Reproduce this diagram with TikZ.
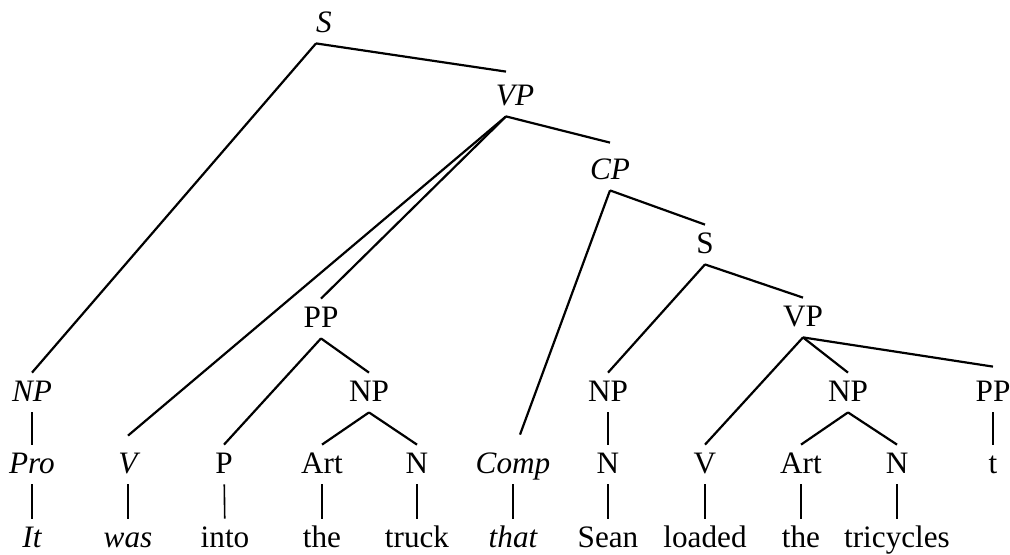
\documentclass[tikz,border=0pt]{standalone}
\usepackage{fontspec}
\setmainfont{Liberation Serif}
\usepackage{tikz}
\usetikzlibrary{positioning}
\tikzstyle{cat} = [inner sep=0pt, 
text height=14pt, 
text depth=5.5pt, 
anchor=base]
\tikzstyle{icat} = [cat, 
font=\fontsize{15.6}{18}\selectfont\itshape]
\tikzstyle{branch} = [line width=1.1pt]
\tikzstyle{bar} = [line width=0.8pt]

\begin{document}
\begin{tikzpicture}[x=0.5pt, y=-0.5pt, font=\fontsize{15.6}{18}\selectfont]
        \useasboundingbox (0,0) rectangle (1010,554);

        % --- Nodos superiores ---
        \node (s1) [icat] at (324,32) {S};
        \node (vp1) [icat] at (515,105) {VP};
        \node (cp) [icat] at (610,179) {CP};
        \node (s2) [cat] at (705,253) {S};
        \node (pp1) [cat] at (321,327) {PP};
        \node (vp2) [cat] at (803,326) {VP};

        % --- Fila de sintagmas ---
        \node (np1) [icat] at (32,401) {NP};
        \node (np2) [cat] at (369,401) {NP};
        \node (np3) [cat] at (608,401) {NP};
        \node (np4) [cat] at (848,401) {NP};
        \node (pp2) [cat] at (993,401) {PP};

        % --- Categorias lexicas ---
        \node (pro) [icat] at (32,473) {Pro};
        \node (v1) [icat] at (128,473) {V};
        \node (p) [cat] at (224,473) {P};
        \node (art1) [cat] at (322,473) {Art};
        \node (n1) [cat] at (417,473) {N};
        \node (comp) [icat] at (513,473) {Comp};
        \node (n2) [cat] at (608,473) {N};
        \node (v2) [cat] at (705,473) {V};
        \node (art2) [cat] at (801,473) {Art};
        \node (n3) [cat] at (897,473) {N};
        \node (t) [cat] at (993,473) {t};

        % --- Palabras ---
        \node (it) [icat] at (32,547) {It};
        \node (was) [icat] at (128,547) {was};
        \node (into) [cat] at (225,547) {into};
        \node (the1) [cat] at (322,547) {the};
        \node (truck) [cat] at (417,547) {truck};
        \node (that) [icat] at (513,547) {that};
        \node (sean) [cat] at (608,547) {Sean};
        \node (loaded) [cat] at (705,547) {loaded};
        \node (the2) [cat] at (801,547) {the};
        \node (tricycles) [cat] at (897,547) {tricycles};

        % --- Puntos de union ajustados ---
        \coordinate (s1_foot) at ([xshift=-4pt]s1.south);
        \coordinate (vp1_foot) at ([xshift=-4.5pt]vp1.south);
        \coordinate (vp1_top) at ([xshift=-4.5pt, yshift=2.5pt]vp1.north);
        \coordinate (cp_top) at ([yshift=4pt]cp.north);
        \coordinate (v1_top) at ([yshift=4.5pt]v1.north);
        \coordinate (comp_top) at ([xshift=3.5pt, yshift=5pt]comp.north);
        \coordinate (pp2_top) at ([yshift=3pt]pp2.north);

        % --- Ramas ---
        \draw [branch] (s1_foot) -- (np1.north);
        \draw [branch] (s1_foot) -- (vp1_top);
        \draw [branch] (vp1_foot) -- (v1_top);
        \draw [branch] (vp1_foot) -- (pp1.north);
        \draw [branch] (vp1_foot) -- (cp_top);
        \draw [branch] (pp1.south) -- (p.north);
        \draw [branch] (pp1.south) -- (np2.north);
        \draw [branch] (np2.south) -- (art1.north);
        \draw [branch] (np2.south) -- (n1.north);
        \draw [branch] (cp.south) -- (comp_top);
        \draw [branch] (cp.south) -- (s2.north);
        \draw [branch] (s2.south) -- (np3.north);
        \draw [branch] (s2.south) -- (vp2.north);
        \draw [branch] (vp2.south) -- (v2.north);
        \draw [branch] (vp2.south) -- (np4.north);
        \draw [branch] (vp2.south) -- (pp2_top);
        \draw [branch] (np4.south) -- (art2.north);
        \draw [branch] (np4.south) -- (n3.north);

        % --- Barras verticales ---
        \draw [bar] (np1) -- (pro);
        \draw [bar] (pro) -- (it);
        \draw [bar] (v1) -- (was);
        \draw [bar] (p) -- (into);
        \draw [bar] (art1) -- (the1);
        \draw [bar] (n1) -- (truck);
        \draw [bar] (comp) -- (that);
        \draw [bar] (np3) -- (n2);
        \draw [bar] (n2) -- (sean);
        \draw [bar] (v2) -- (loaded);
        \draw [bar] (art2) -- (the2);
        \draw [bar] (n3) -- (tricycles);
        \draw [bar] (pp2) -- (t);

    \end{tikzpicture}
\end{document}
